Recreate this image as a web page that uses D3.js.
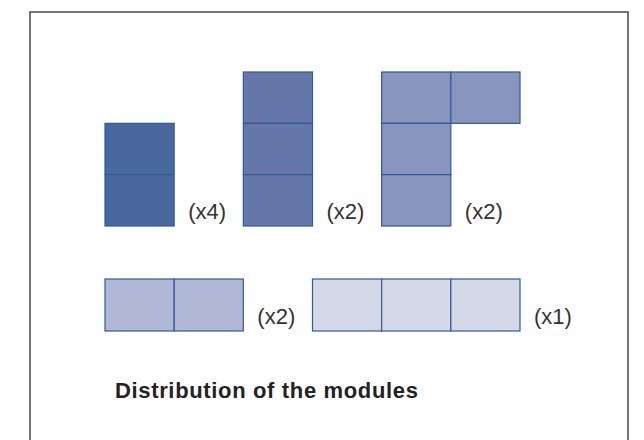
<!DOCTYPE html>
<html><head><meta charset="utf-8">
<script src="https://cdn.jsdelivr.net/npm/d3@7"></script>
<style>body{margin:0;background:#fff}svg{display:block}</style>
</head><body>
<svg id="c" width="644" height="440"></svg>
<script>
// Module groups: each cell given in grid units (column, row)
const groupNames = ["A", "B", "C", "D", "E"];
const groupCounts = ["(x4)", "(x2)", "(x2)", "(x2)", "(x1)"];
const groupCols = [[0, 0], [2, 2, 2], [4, 5, 4, 4], [0, 1], [3, 4, 5]];
const groupRows = [[1, 2], [0, 1, 2], [0, 0, 1, 2], [4, 4], [4, 4, 4]];
const groupColors = ["#4a68a0", "#6577a9", "#8795bf", "#b0b8d5", "#d5d9e7"];
const title = "Distribution of the modules";

const svg = d3.select("#c");
const x = d3.scaleLinear().domain([0, 6]).range([105, 520]);
const y = d3.scaleLinear().domain([0, 3]).range([72, 226]);
const y2 = d3.scaleLinear().domain([4, 5]).range([279, 331]);
const yy = r => (r >= 4 ? y2(r) : y(r));

// frame
svg.append("rect").attr("x", 30).attr("y", 12).attr("width", 598).attr("height", 460)
  .attr("fill", "none").attr("stroke", "#4a4a4a").attr("stroke-width", 1.5);

groupNames.forEach((g, i) => {
  const cells = groupCols[i].map((c, j) => ({c, r: groupRows[i][j]}));
  const gg = svg.append("g");
  gg.selectAll("rect").data(cells).join("rect")
    .attr("x", d => x(d.c)).attr("y", d => yy(d.r))
    .attr("width", d => x(d.c + 1) - x(d.c))
    .attr("height", d => yy(d.r + 1) - yy(d.r))
    .attr("fill", groupColors[i]).attr("stroke", "#2f5b98").attr("stroke-width", 1.2);
  const maxRow = d3.max(cells, d => d.r);
  const bottomCells = cells.filter(d => d.r === maxRow);
  const right = x(d3.max(bottomCells, d => d.c) + 1);
  const bottom = yy(maxRow + 1);
  gg.append("text").attr("x", right + 14).attr("y", bottom - 7)
    .attr("font-family", "Liberation Sans, Arial, sans-serif").attr("font-size", 22)
    .attr("fill", "#333").text(groupCounts[i]);
});

svg.append("text").attr("x", 115).attr("y", 398)
  .attr("font-family", "Liberation Sans, Arial, sans-serif").attr("font-size", 22)
  .attr("font-weight", "bold").attr("letter-spacing", 0.65).attr("fill", "#222").text(title);
</script>
</body></html>
